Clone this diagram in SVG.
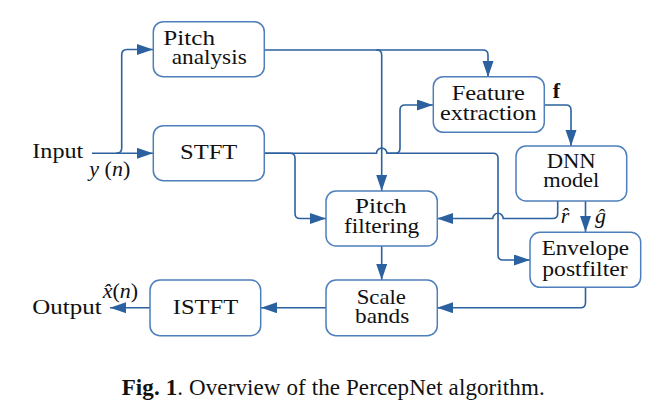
<svg xmlns="http://www.w3.org/2000/svg" width="671" height="415" viewBox="0 0 671 415">
<style>
.box{fill:#fff;stroke:#4f7fbb;stroke-width:1.5}
.ln{fill:none;stroke:#2c61a0;stroke-width:1.6}
.arr{marker-end:url(#ah)}
text{font-family:"Liberation Serif","Times New Roman",serif;font-size:21px;fill:#111}
.m{font-style:italic}
.lb{font-size:22px}
</style>
<defs>
<marker id="ah" markerUnits="userSpaceOnUse" markerWidth="17" markerHeight="12" refX="16" refY="5.5" orient="auto">
<path d="M0,0 L16,5.5 L0,11 z" fill="#2c61a0"/>
</marker>
</defs>
<rect width="671" height="415" fill="#fff"/>
<g id="connectors">
<path class="ln arr" d="M92,153.3 H153"/>
<path class="ln arr" d="M116,153.3 Q121.7,153.3 121.7,148 V55 Q121.7,49.5 127,49.5 H153"/>
<path class="ln arr" d="M264,50 H376.7 Q381.7,50 381.7,55 V191"/>
<path class="ln arr" d="M376,50 H483 Q488,50 488,55 V77"/>
<path class="ln arr" d="M264,153.3 H376.5 A5.2,5.2 0 0 1 386.9,153.3 H395 Q400,153.3 400,148.3 V110 Q400,105 405,105 H433"/>
<path class="ln arr" d="M386.9,153.3 H493 Q498,153.3 498,158.3 V255 Q498,260 503,260 H530"/>
<path class="ln arr" d="M264,153.3 H290 Q295,153.3 295,158.3 V213.5 Q295,218.5 300,218.5 H326"/>
<path class="ln arr" d="M544,105 H566 Q571,105 571,110 V146"/>
<path class="ln arr" d="M557.7,201 V213.5 Q557.7,218.5 552.7,218.5 H503.2 A5.2,5.2 0 0 0 492.8,218.5 H437"/>
<path class="ln arr" d="M585.5,201 V232"/>
<path class="ln arr" d="M585.5,287 V302.7 Q585.5,307.7 580.5,307.7 H437"/>
<path class="ln arr" d="M381.7,246 V280"/>
<path class="ln arr" d="M326,307.7 H261"/>
<path class="ln arr" d="M150,307.7 H110"/>
</g>
<g id="pitch-analysis">
<rect class="box" x="153.3" y="21.7" width="111" height="55" rx="10"/>
<text x="163.3" y="44.5" textLength="51.7" lengthAdjust="spacingAndGlyphs">Pitch</text>
<text x="171.7" y="64" textLength="75" lengthAdjust="spacingAndGlyphs">analysis</text>
</g>
<g id="stft">
<rect class="box" x="153.3" y="125.7" width="111" height="55" rx="10"/>
<text x="180" y="159" textLength="57.3" lengthAdjust="spacingAndGlyphs">STFT</text>
</g>
<g id="feature-extraction">
<rect class="box" x="433.3" y="76.7" width="111" height="55.6" rx="10"/>
<text x="451.7" y="100" textLength="73.3" lengthAdjust="spacingAndGlyphs">Feature</text>
<text x="440" y="120" textLength="96.7" lengthAdjust="spacingAndGlyphs">extraction</text>
</g>
<g id="dnn-model">
<rect class="box" x="516" y="146" width="110.7" height="55" rx="10"/>
<text x="546.7" y="168.3" textLength="49" lengthAdjust="spacingAndGlyphs">DNN</text>
<text x="543.3" y="186.7" textLength="56" lengthAdjust="spacingAndGlyphs">model</text>
</g>
<g id="pitch-filtering">
<rect class="box" x="326" y="191" width="111.3" height="55" rx="10"/>
<text x="355" y="213.3" textLength="51.7" lengthAdjust="spacingAndGlyphs">Pitch</text>
<text x="344" y="233.3" textLength="75.3" lengthAdjust="spacingAndGlyphs">filtering</text>
</g>
<g id="envelope-postfilter">
<rect class="box" x="530" y="232.3" width="110.7" height="55" rx="10"/>
<text x="541.7" y="255" textLength="87.3" lengthAdjust="spacingAndGlyphs">Envelope</text>
<text x="542.3" y="275.5" textLength="85.3" lengthAdjust="spacingAndGlyphs">postfilter</text>
</g>
<g id="scale-bands">
<rect class="box" x="326" y="280" width="111.3" height="55.7" rx="10"/>
<text x="356.7" y="304" textLength="49.3" lengthAdjust="spacingAndGlyphs">Scale</text>
<text x="355" y="322.7" textLength="54.3" lengthAdjust="spacingAndGlyphs">bands</text>
</g>
<g id="istft">
<rect class="box" x="150" y="280" width="110.7" height="55.7" rx="10"/>
<text x="172.7" y="314" textLength="65.6" lengthAdjust="spacingAndGlyphs">ISTFT</text>
</g>
<g id="labels">
<text x="32.3" y="158.3" textLength="51" lengthAdjust="spacingAndGlyphs">Input</text>
<text x="32.3" y="314" textLength="69.3" lengthAdjust="spacingAndGlyphs">Output</text>
<text class="lb" x="89.3" y="175.5"><tspan class="m">y</tspan> (<tspan class="m">n</tspan>)</text>
<text class="lb" x="102.7" y="298.3"><tspan class="m">x̂</tspan>(<tspan class="m">n</tspan>)</text>
<text x="552.7" y="98.3" font-weight="bold" style="font-size:22px">f</text>
<text class="lb m" x="560.7" y="222.7">r̂</text>
<text class="lb m" x="595" y="222.7">ĝ</text>
</g>
<text x="121.7" y="395" style="font-size:23px" textLength="423"><tspan font-weight="bold">Fig. 1</tspan>. Overview of the PercepNet algorithm.</text>
</svg>
